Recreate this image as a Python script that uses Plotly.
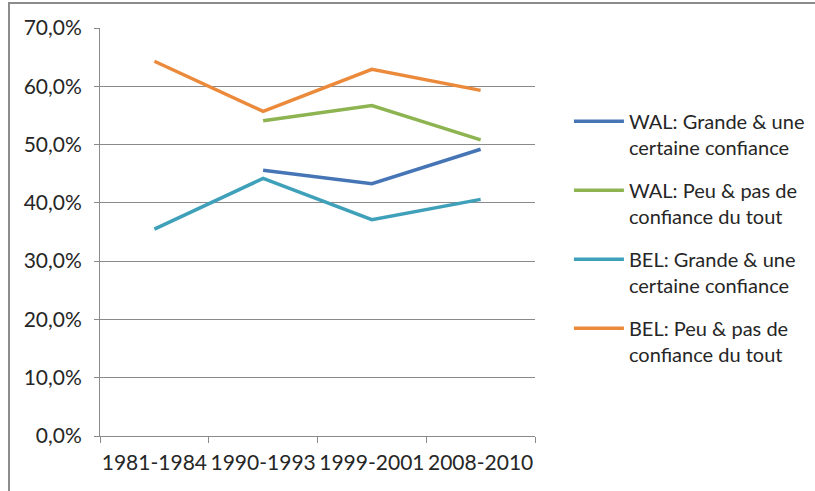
import plotly.graph_objects as go

categories = ["1981-1984", "1990-1993", "1999-2001", "2008-2010"]
wal_grande = [None, 0.456, 0.433, 0.492]
wal_peu = [None, 0.541, 0.567, 0.508]
bel_grande = [0.355, 0.442, 0.371, 0.406]
bel_peu = [0.643, 0.557, 0.629, 0.593]

series = [
    ("WAL: Grande & une<br>certaine confiance", wal_grande, "#4675B6"),
    ("WAL: Peu & pas de<br>confiance du tout", wal_peu, "#8DB450"),
    ("BEL: Grande & une<br>certaine confiance", bel_grande, "#3FA0BA"),
    ("BEL: Peu & pas de<br>confiance du tout", bel_peu, "#EC8A3C"),
]

fig = go.Figure()
for i, (name, vals, col) in enumerate(series):
    fig.add_trace(go.Scatter(
        x=categories, y=vals, name=name, mode="lines",
        line=dict(color=col, width=3.5),
        legendgroup=f"g{i}", connectgaps=False,
    ))

FONT = "Lato, 'Open Sans', sans-serif"
fig.update_layout(
    width=815, height=491,
    margin=dict(l=100, r=280, t=28, b=55, autoexpand=False),
    paper_bgcolor="white", plot_bgcolor="white",
    separators=", ",
    font=dict(family=FONT, size=21, color="#262626"),
    showlegend=True,
    legend=dict(
        x=1.078, y=0.819, xanchor="left", yanchor="top",
        valign="top", tracegroupgap=14, itemwidth=50,
        font=dict(family=FONT, size=20, color="#262626"),
        bgcolor="rgba(0,0,0,0)",
    ),
    xaxis=dict(
        type="category", range=[-0.5, 3.5], tickangle=0, automargin=False,
        showline=True, linecolor="#8a8a8a", linewidth=1,
        ticks="outside", tickson="boundaries", ticklen=6, tickcolor="#8a8a8a",
        showgrid=False, zeroline=False, ticklabelstandoff=8,
        tickfont=dict(family=FONT, size=21, color="#262626"),
    ),
    yaxis=dict(
        range=[0, 0.7], dtick=0.1, tickformat=".1%", automargin=False,
        showline=True, linecolor="#8a8a8a", linewidth=1,
        ticks="outside", ticklen=5, tickcolor="#8a8a8a",
        showgrid=True, gridcolor="#8a8a8a", gridwidth=1, zeroline=False,
        ticklabelstandoff=8,
        tickfont=dict(family=FONT, size=21, color="#262626"),
    ),
)

# Outer chart-area frame (left and top edges visible)
fig.add_shape(type="rect", xref="paper", yref="paper",
              x0=(9 - 100) / 435, x1=(830 - 100) / 435,
              y0=(436 - 500) / 408, y1=(436 - 3) / 408,
              line=dict(color="#8c8c8c", width=2), layer="below")

fig.write_html(
    "out.html",
    config={"displayModeBar": False},
    post_script="document.body.style.margin='0';document.body.style.overflow='hidden';",
)
